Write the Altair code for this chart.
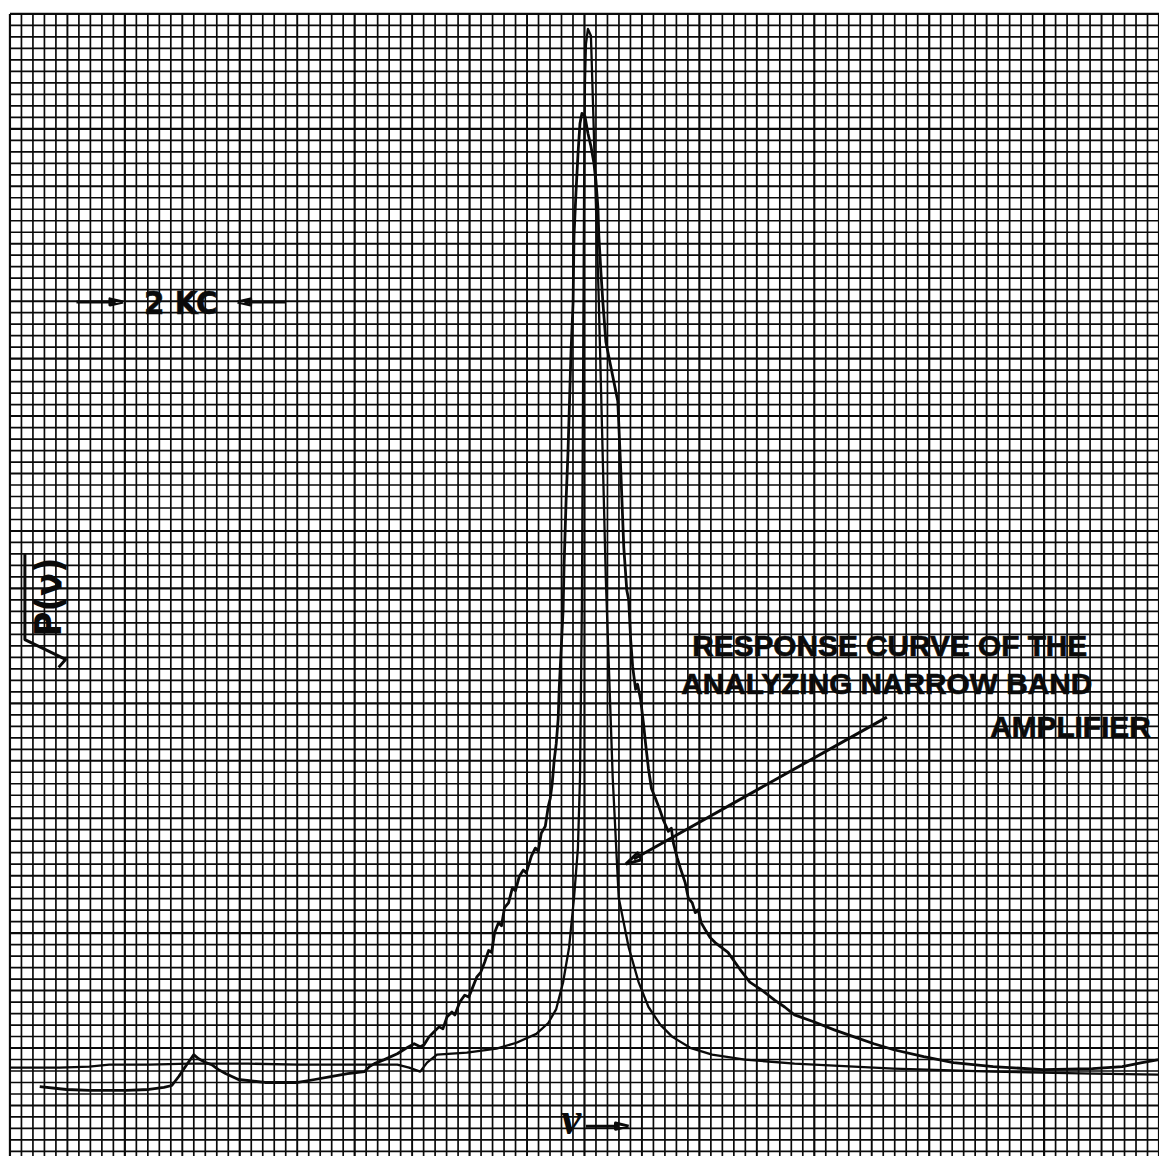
import altair as alt
import pandas as pd

# ---- chart-paper coordinates, in grid divisions (x: left->right, y: bottom->top)
XMIN, XMAX = -0.17, 100.0
YMIN, YMAX = -0.40, 99.17

# grid line indices
GRID_COLS = list(range(0, 101))
GRID_ROWS = list(range(0, 100))  # counted from the top edge

# Response curve of the analyzing narrow band amplifier (smooth)
resp_x = [0.0, 4.32, 6.91, 8.64, 12.10, 15.56, 20.74, 25.06, 29.39, 33.71, 34.74, 35.70,
          36.30, 37.16, 39.76, 42.35, 44.08, 45.81, 46.85, 47.54, 48.14, 48.66, 49.09,
          49.43, 49.61, 49.78, 49.87, 49.96, 50.04, 50.13, 50.30, 50.56, 50.74, 50.99,
          51.25, 51.51, 51.86, 52.46, 52.98, 53.85, 54.71, 55.57, 56.61, 57.65, 59.20,
          61.11, 63.96, 68.28, 76.92, 85.57, 94.21, 100.0]
resp_y = [7.29, 7.29, 7.38, 7.55, 7.55, 7.64, 7.64, 7.55, 7.55, 7.55, 7.29, 6.95,
          7.73, 8.42, 8.59, 8.94, 9.46, 10.23, 11.18, 12.39, 14.73, 17.75, 22.07,
          26.40, 32.45, 48.00, 65.29, 82.57, 92.95, 96.40, 97.70, 97.10, 91.22, 82.57,
          73.93, 63.56, 49.73, 32.45, 22.07, 17.75, 14.73, 12.57, 11.01, 9.97, 9.02,
          8.42, 7.99, 7.64, 7.21, 6.95, 6.78, 6.69]

# Measured spectrum sqrt(P(nu)) (noisy trace)
spec_x = [2.59, 4.93, 6.91, 10.11, 12.10, 13.40, 14.09, 14.69, 15.38, 15.99, 16.42, 17.03,
          17.55, 18.15, 18.76, 19.88, 22.21, 25.06, 26.53, 27.92, 29.39, 30.86, 31.29,
          31.72, 32.58, 33.71, 34.40, 35.18, 35.70, 36.04, 36.47, 36.91, 37.34, 37.68,
          38.03, 38.46, 38.72, 39.15, 39.58, 39.93, 40.28, 40.62, 40.97, 41.31, 41.66,
          41.92, 42.18, 42.52, 42.78, 43.04, 43.39, 43.73, 43.99, 44.34, 44.68, 44.94,
          45.38, 45.72, 45.98, 46.24, 46.59, 46.85, 47.02, 47.19, 47.36, 47.54, 47.71,
          47.80, 47.97, 48.14, 48.23, 48.40, 48.57, 48.83, 49.01, 49.09, 49.26, 49.44,
          49.61, 49.78, 50.04, 50.30, 50.56, 50.82, 50.99, 51.17, 51.25, 51.43, 51.60,
          51.86, 52.20, 52.55, 52.90, 53.16, 53.42, 53.68, 53.85, 54.02, 54.19, 54.45,
          54.62, 54.88, 55.14, 55.32, 55.57, 55.83, 56.18, 56.52, 56.87, 57.30, 57.56,
          57.74, 58.08, 58.34, 58.77, 59.03, 59.38, 59.64, 59.90, 60.15, 60.50, 60.93,
          61.37, 62.49, 63.53, 64.39, 65.43, 66.55, 67.42, 68.28, 70.01, 71.74, 73.47,
          75.19, 76.92, 79.52, 82.11, 85.57, 89.89, 94.21, 96.80, 98.53, 100.0]
spec_y = [5.65, 5.39, 5.31, 5.31, 5.39, 5.57, 5.74, 6.52, 7.55, 8.42, 8.07, 7.73,
          7.55, 7.12, 6.78, 6.26, 6.00, 6.00, 6.26, 6.52, 6.78, 6.95, 7.38,
          7.64, 7.99, 8.50, 8.94, 9.37, 9.11, 9.28, 9.97, 10.41, 10.84, 10.67,
          11.70, 12.13, 11.87, 13.00, 13.60, 13.43, 14.30, 15.16, 15.59, 16.46, 17.49,
          17.32, 19.05, 19.91, 19.65, 21.21, 21.64, 22.94, 22.68, 23.98, 24.49, 24.24,
          25.70, 26.40, 26.14, 27.69, 28.30, 30.03, 30.72, 32.01, 34.00, 35.47, 37.63,
          40.22, 43.68, 47.14, 51.20, 56.65, 60.97, 69.61, 73.93, 79.72, 83.44, 86.90,
          89.49, 90.35, 90.09, 88.62, 87.50, 86.03, 84.56, 82.14, 79.72, 76.53, 73.93,
          70.47, 68.75, 67.02, 65.29, 59.24, 52.58, 48.87, 48.00, 44.55, 42.21, 40.22,
          40.66, 39.36, 37.20, 35.47, 33.31, 31.58, 30.72, 29.85, 28.82, 27.86, 28.12,
          26.83, 25.53, 24.67, 23.37, 22.07, 21.64, 20.78, 21.04, 19.91, 19.31, 18.62,
          18.18, 17.32, 15.85, 14.73, 14.04, 13.17, 12.57, 11.88, 11.27, 10.58, 9.97,
          9.37, 8.85, 8.25, 7.73, 7.38, 7.12, 7.21, 7.38, 7.73, 7.99]

# Annotation texts
label_text = ["RESPONSE CURVE OF THE", "ANALYZING NARROW BAND", "AMPLIFIER"]
label_x = [59.38, 58.43, 85.31]
label_y = [43.08, 39.79, 36.08]

kc_text = "2 KC"
kc_pos = (14.87, 72.89)
ylabel_text = "P(\u03bd)"
ylabel_pos = (3.46, 48.26)
xlabel_text = "\u03bd"
xlabel_pos = (48.83, 1.55)

# line-art annotation elements (arrow shafts, arrow heads, radical sign)
arrows = {
    "kc_left": ([5.79, 9.20], [73.93, 73.93]),
    "kc_right": ([20.40, 23.94], [73.93, 73.93]),
    "nu": ([50.13, 53.00], [2.20, 2.20]),
    "pointer": ([76.32, 54.30], [37.80, 25.45]),
    "radical": ([1.30, 1.30, 4.84, 4.24], [52.07, 44.55, 42.82, 42.13]),
    # arrow heads (narrow closed triangles: tip, back corner, back corner, tip)
    "head_kc_left": ([9.85, 8.70, 8.70, 9.85], [73.93, 74.20, 73.66, 73.93]),
    "head_kc_right": ([19.80, 20.95, 20.95, 19.80], [73.93, 74.20, 73.66, 73.93]),
    "head_nu": ([53.85, 52.70, 52.70, 53.85], [2.20, 2.47, 1.93, 2.20]),
    "head_pointer": ([53.59, 54.96, 54.62, 53.59], [25.01, 25.39, 25.99, 25.01]),
}

INK = "#0a0a0a"
xs = alt.Scale(domain=[XMIN, XMAX], nice=False, zero=False)
ys = alt.Scale(domain=[YMIN, YMAX], nice=False, zero=False)


def X(f="x"):
    return alt.X(f"{f}:Q", scale=xs, axis=None)


def Y(f="y"):
    return alt.Y(f"{f}:Q", scale=ys, axis=None)


def level(k):
    return "major" if k % 10 == 0 else ("mid" if k % 5 == 0 else "minor")


sw_scale = alt.Scale(domain=["minor", "mid", "major"], range=[1.7, 2.2, 2.9])

vdf = pd.DataFrame({"x": GRID_COLS, "y": 99.0, "y2": YMIN,
                    "lev": [level(k) for k in GRID_COLS]})
hdf = pd.DataFrame({"y": [99 - k for k in GRID_ROWS], "x": 0.0, "x2": XMAX,
                    "lev": [level(k) for k in GRID_ROWS]})

vgrid = alt.Chart(vdf).mark_rule(color=INK).encode(
    x=X(), y=Y(), y2="y2:Q",
    strokeWidth=alt.StrokeWidth("lev:N", scale=sw_scale, legend=None),
)
hgrid = alt.Chart(hdf).mark_rule(color=INK).encode(
    x=X(), x2="x2:Q", y=Y(),
    strokeWidth=alt.StrokeWidth("lev:N", scale=sw_scale, legend=None),
)

resp_df = pd.DataFrame({"x": resp_x, "y": resp_y, "o": list(range(len(resp_x)))})
spec_df = pd.DataFrame({"x": spec_x, "y": spec_y, "o": list(range(len(spec_x)))})

resp = alt.Chart(resp_df).mark_line(color=INK, strokeWidth=2.3, strokeJoin="round").encode(
    x=X(), y=Y(), order="o:Q")
spec = alt.Chart(spec_df).mark_line(color=INK, strokeWidth=2.8, strokeJoin="round").encode(
    x=X(), y=Y(), order="o:Q")

arrow_rows = []
for name, (ax, ay) in arrows.items():
    for i, (px, py) in enumerate(zip(ax, ay)):
        arrow_rows.append({"g": name, "x": px, "y": py, "o": i})
arrow_df = pd.DataFrame(arrow_rows)
shafts = alt.Chart(arrow_df).mark_line(color=INK, strokeWidth=3, strokeJoin="round").encode(
    x=X(), y=Y(), detail="g:N", order="o:Q")

lab_df = pd.DataFrame({"x": label_x, "y": label_y, "t": label_text})
labels = alt.Chart(lab_df).mark_text(
    font="Liberation Sans", fontWeight="bold", fontSize=30, align="left",
    baseline="alphabetic", color=INK, stroke=INK, strokeWidth=0.7
).encode(x=X(), y=Y(), text="t:N")

kc = alt.Chart(pd.DataFrame({"x": [kc_pos[0]], "y": [kc_pos[1]], "t": [kc_text]})).mark_text(
    font="Liberation Sans Narrow, DejaVu Sans Condensed, sans-serif", fontWeight="bold",
    fontSize=33, align="center", baseline="alphabetic", color=INK, stroke=INK, strokeWidth=0.6
).encode(x=X(), y=Y(), text="t:N")

ylab = alt.Chart(pd.DataFrame({"x": [ylabel_pos[0]], "y": [ylabel_pos[1]], "t": [ylabel_text]})).mark_text(
    font="Liberation Sans Narrow, DejaVu Sans Condensed, sans-serif", fontWeight="bold",
    fontSize=38, align="center", baseline="middle", angle=270, color=INK
).encode(x=X(), y=Y(), text="t:N")

xlab = alt.Chart(pd.DataFrame({"x": [xlabel_pos[0]], "y": [xlabel_pos[1]], "t": [xlabel_text]})).mark_text(
    font="Liberation Serif", fontStyle="italic", fontWeight="bold",
    fontSize=46, align="center", baseline="alphabetic", color=INK
).encode(x=X(), y=Y(), text="t:N")

chart = alt.layer(
    vgrid, hgrid, resp, spec, shafts, labels, kc, ylab, xlab
).properties(
    width=1159, height=1152, padding=0, autosize="none", background="white"
).configure_view(stroke=None)

chart.save("out.html", embed_options={"renderer": "svg", "actions": False})
